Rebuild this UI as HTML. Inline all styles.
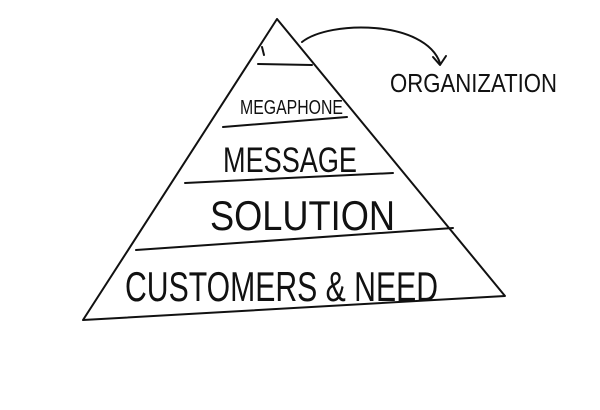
<!DOCTYPE html>
<html><head><style>html,body{margin:0;padding:0;background:#fff;}svg{display:block}</style></head>
<body>
<svg width="600" height="410" viewBox="0 0 600 410" xmlns="http://www.w3.org/2000/svg">
<rect width="600" height="410" fill="#fff"/>
<g fill="none" stroke="#111" stroke-width="2" stroke-linecap="round" stroke-linejoin="round">
<path d="M277,19 L83,320 L505,296 L277,19"/>
<path d="M258,64 L312,65"/>
<path d="M223,127 L347,117"/>
<path d="M185,183 L393,173"/>
<path d="M136,250 L453,228"/>
<path d="M262,47 L264,55"/>
<path d="M302,42 C330,20 425,20 440,63"/>
<path d="M433,57 L440,65 L446,56"/>
</g>
<g font-family="Liberation Sans Narrow, Liberation Sans, sans-serif" fill="#111" font-weight="normal">
<text x="240" y="114" font-size="20" textLength="103" lengthAdjust="spacingAndGlyphs">MEGAPHONE</text>
<text x="223" y="172" font-size="35" textLength="134" lengthAdjust="spacingAndGlyphs">MESSAGE</text>
<text x="210" y="230" font-size="42" textLength="185" lengthAdjust="spacingAndGlyphs">SOLUTION</text>
<text x="125" y="301" font-size="42" textLength="313" lengthAdjust="spacingAndGlyphs">CUSTOMERS &amp; NEED</text>
<text x="390" y="92" font-size="26" textLength="167" lengthAdjust="spacingAndGlyphs">ORGANIZATION</text>
</g>
</svg>
</body></html>
